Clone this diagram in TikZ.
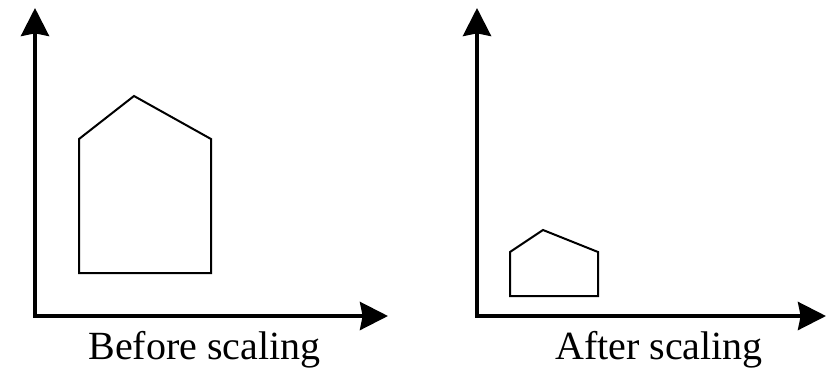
\documentclass[tikz,border=0pt]{standalone}
\usepackage{fontspec}
\setmainfont{Liberation Serif}
\usetikzlibrary{arrows.meta}

\begin{document}
\begin{tikzpicture}[x=0.75pt, y=-0.75pt,
  axis/.style={line width=3pt, {Stealth[length=21pt, width=21pt, inset=2pt]}-{Stealth[length=21pt, width=21pt, inset=2pt]}},
  house/.style={line width=1.5pt, line join=miter},
  caption/.style={anchor=base, inner sep=0pt, font=\fontsize{30}{34}\selectfont},
]
\useasboundingbox (0,0) rectangle (827,368);
% left frame: original shape
\coordinate (lorig) at (35,316);
\coordinate (ltop) at (35,8);
\coordinate (lend) at (388,316);
\draw[axis] (ltop) -- (lorig) -- (lend);
\draw[house] (79,273) -- (211,273) -- (211,139) -- (134,96) -- (79,139) -- cycle;
\node[caption] (lcap) at (204.5,359) {Before scaling};
% right frame: scaled shape
\coordinate (rorig) at (477,316);
\coordinate (rtop) at (477,8);
\coordinate (rend) at (826,316);
\draw[axis] (rtop) -- (rorig) -- (rend);
\draw[house] (510,296) -- (598,296) -- (598,252) -- (543,230) -- (510,252) -- cycle;
\node[caption] (rcap) at (659,359) {After scaling};
\end{tikzpicture}
\end{document}
